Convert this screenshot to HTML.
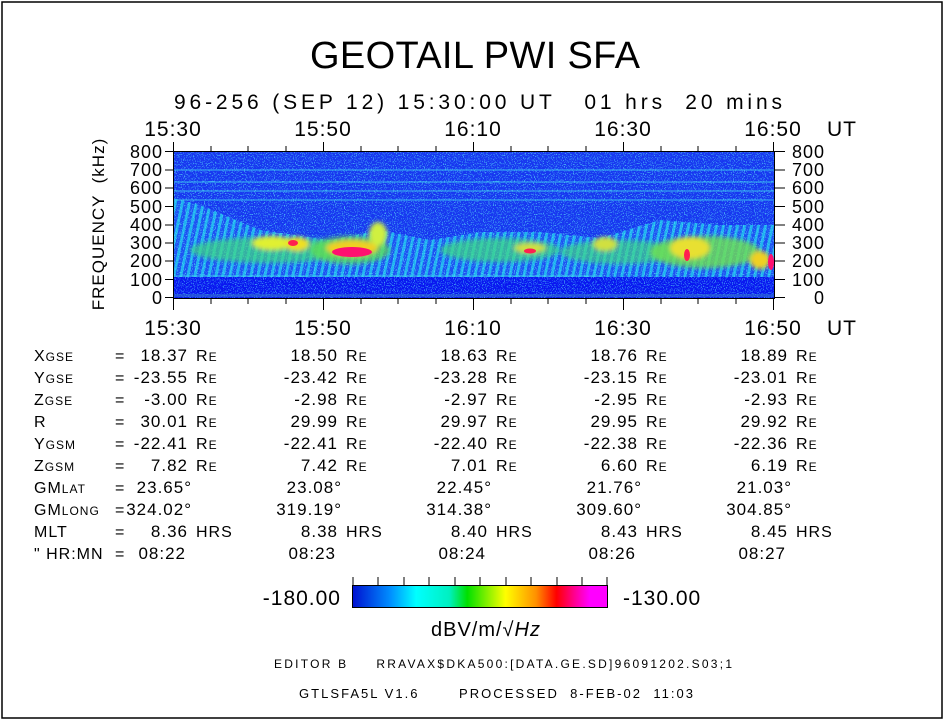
<!DOCTYPE html>
<html><head><meta charset="utf-8"><style>
body{margin:0;background:#fff;}
svg text{font-family:"Liberation Sans",sans-serif;fill:#000;}
</style></head><body>
<svg width="945" height="720" viewBox="0 0 945 720" xmlns="http://www.w3.org/2000/svg">
<defs>
<pattern id="diag" width="7" height="30" patternUnits="userSpaceOnUse" patternTransform="skewX(-12)">
<rect width="7" height="30" fill="#1f55f4"/><rect x="0" width="3" height="30" fill="#20c8f0"/>
</pattern>
<filter id="speck" x="0" y="0" width="1" height="1">
<feTurbulence type="fractalNoise" baseFrequency="0.9" numOctaves="1" seed="3" result="n"/>
<feColorMatrix in="n" type="matrix" values="0 0 0 0 0.1  0 0 0 0 0.75  0 0 0 0 0.95  0 0 0 10 -5.6"/>
</filter>
<filter id="bl"><feGaussianBlur stdDeviation="2.5"/></filter>
<linearGradient id="cb" x1="0" x2="1">
<stop offset="0" stop-color="#0010d0"/><stop offset="0.15" stop-color="#0090ff"/><stop offset="0.25" stop-color="#00ffff"/><stop offset="0.38" stop-color="#00f0c0"/><stop offset="0.45" stop-color="#00e000"/><stop offset="0.6" stop-color="#ffff00"/><stop offset="0.72" stop-color="#ff9000"/><stop offset="0.8" stop-color="#ff0000"/><stop offset="0.87" stop-color="#ff0090"/><stop offset="0.93" stop-color="#ff00ff"/><stop offset="1" stop-color="#ff00ff"/>
</linearGradient>
<clipPath id="pc"><rect x="174" y="152" width="600" height="146"/></clipPath>
</defs>
<rect x="2" y="2" width="940" height="716" fill="none" stroke="#000" stroke-width="1.5"/>
<text x="475" y="68" font-size="38" text-anchor="middle" textLength="330">GEOTAIL PWI SFA</text>
<text x="478" y="109" font-size="21" text-anchor="middle" xml:space="preserve" textLength="608">96-256 (SEP 12) 15:30:00 UT   01 hrs  20 mins</text>
<g clip-path="url(#pc)">
<rect x="173" y="151" width="601" height="147" fill="#1838f0"/>
<polygon points="173,198 200,205 260,230 330,240 380,230 430,240 480,232 540,232 600,238 660,220 720,225 774,225 774,280 173,280" fill="url(#diag)" opacity="0.85"/>
<rect x="173" y="277" width="601" height="21" fill="#0a18f0"/>
<rect x="173" y="151" width="601" height="147" filter="url(#speck)" opacity="0.65"/>
<g stroke="#40d8f0" stroke-width="1" opacity="0.8">
<line x1="173" y1="170" x2="774" y2="170"/><line x1="173" y1="182" x2="774" y2="182"/><line x1="173" y1="191" x2="774" y2="191"/><line x1="173" y1="200" x2="774" y2="200"/><line x1="173" y1="276" x2="600" y2="276"/>
</g>
<g filter="url(#bl)">
<ellipse cx="270" cy="250" rx="80" ry="13" fill="#40d880" opacity="0.7"/>
<ellipse cx="350" cy="250" rx="40" ry="14" fill="#60e050" opacity="0.75"/>
<ellipse cx="500" cy="250" rx="60" ry="12" fill="#40d880" opacity="0.7"/>
<ellipse cx="620" cy="252" rx="60" ry="12" fill="#40d880" opacity="0.65"/>
<ellipse cx="705" cy="252" rx="55" ry="16" fill="#70e050" opacity="0.8"/>
<ellipse cx="272" cy="243" rx="20" ry="7" fill="#e0f030"/>
<ellipse cx="297" cy="244" rx="12" ry="7" fill="#f0e020"/>
<ellipse cx="352" cy="248" rx="26" ry="8" fill="#f0d020"/>
<ellipse cx="378" cy="234" rx="9" ry="12" fill="#d0f040"/>
<ellipse cx="530" cy="248" rx="16" ry="5" fill="#d0e040"/>
<ellipse cx="605" cy="244" rx="12" ry="7" fill="#d0e040"/>
<ellipse cx="690" cy="248" rx="20" ry="11" fill="#e8e030"/>
<ellipse cx="760" cy="260" rx="10" ry="9" fill="#f0d020"/>
</g>
<ellipse cx="352" cy="252" rx="20" ry="5" fill="#ff1070"/>
<ellipse cx="293" cy="243" rx="5" ry="3" fill="#ff2050"/>
<ellipse cx="530" cy="251" rx="6" ry="2.5" fill="#ff2050"/>
<ellipse cx="771" cy="262" rx="3" ry="8" fill="#ff1070"/>
<ellipse cx="687" cy="255" rx="3" ry="6" fill="#ff2050"/>
<rect x="173" y="294" width="601" height="3" fill="#3070d0" opacity="0.6"/>
</g>
<rect x="173.5" y="151.5" width="601" height="147" fill="none" stroke="#000" stroke-width="1"/>
<g stroke="#000" stroke-width="1">
<path d="M173.5 142V151M323.5 142V151M473.5 142V151M623.5 142V151M773.5 142V151"/>
<path d="M211 146V151M248 146V151M286 146V151M361 146V151M398 146V151M436 146V151M511 146V151M548 146V151M586 146V151M661 146V151M698 146V151M736 146V151"/>
<path d="M173.5 298V310M323.5 298V310M473.5 298V310M623.5 298V310M773.5 298V310"/>
<path d="M211 298V304M248 298V304M286 298V304M361 298V304M398 298V304M436 298V304M511 298V304M548 298V304M586 298V304M661 298V304M698 298V304M736 298V304"/>
<path d="M165 151.5H173M165 170H173M165 188H173M165 206.5H173M165 225H173M165 243H173M165 261H173M165 279.5H173M165 297.5H173"/>
<path d="M774 151.5H785M774 170H785M774 188H785M774 206.5H785M774 225H785M774 243H785M774 261H785M774 279.5H785M774 297.5H785"/>
</g>
<g font-size="21" text-anchor="middle" letter-spacing="1">
<text x="173" y="136">15:30</text><text x="323" y="136">15:50</text><text x="473" y="136">16:10</text><text x="623" y="136">16:30</text><text x="773" y="136">16:50</text><text x="842" y="136">UT</text>
<text x="173" y="335">15:30</text><text x="323" y="335">15:50</text><text x="473" y="335">16:10</text><text x="623" y="335">16:30</text><text x="773" y="335">16:50</text><text x="842" y="335">UT</text>
</g>
<g font-size="18" text-anchor="end" letter-spacing="1">
<text x="163" y="158">800</text><text x="163" y="176">700</text><text x="163" y="194">600</text><text x="163" y="213">500</text><text x="163" y="231">400</text><text x="163" y="249">300</text><text x="163" y="267">200</text><text x="163" y="286">100</text><text x="163" y="304">0</text>
<text x="825" y="158">800</text><text x="825" y="176">700</text><text x="825" y="194">600</text><text x="825" y="213">500</text><text x="825" y="231">400</text><text x="825" y="249">300</text><text x="825" y="267">200</text><text x="825" y="286">100</text><text x="825" y="304">0</text>
</g>
<text transform="translate(104,224) rotate(-90)" font-size="17" text-anchor="middle" xml:space="preserve" letter-spacing="1">FREQUENCY  (kHz)</text>
<g font-size="16" xml:space="preserve" letter-spacing="1">
<text x="34" y="361">X<tspan font-size="12">GSE</tspan></text>
<text x="34" y="383">Y<tspan font-size="12">GSE</tspan></text>
<text x="34" y="405">Z<tspan font-size="12">GSE</tspan></text>
<text x="34" y="427">R</text>
<text x="34" y="449">Y<tspan font-size="12">GSM</tspan></text>
<text x="34" y="471">Z<tspan font-size="12">GSM</tspan></text>
<text x="34" y="493">GM<tspan font-size="12">LAT</tspan></text>
<text x="34" y="515">GM<tspan font-size="12">LONG</tspan></text>
<text x="34" y="537">MLT</text>
<text x="34" y="559">"  HR:MN</text>
<text x="115" y="361">=</text><text x="115" y="383">=</text><text x="115" y="405">=</text><text x="115" y="427">=</text><text x="115" y="449">=</text><text x="115" y="471">=</text><text x="115" y="493">=</text><text x="115" y="515">=</text><text x="115" y="537">=</text><text x="115" y="559">=</text>
</g>
<g font-size="17" text-anchor="end" letter-spacing="1">
<text x="188" y="361">18.37</text><text x="338" y="361">18.50</text><text x="488" y="361">18.63</text><text x="638" y="361">18.76</text><text x="788" y="361">18.89</text>
<text x="188" y="383">-23.55</text><text x="338" y="383">-23.42</text><text x="488" y="383">-23.28</text><text x="638" y="383">-23.15</text><text x="788" y="383">-23.01</text>
<text x="188" y="405">-3.00</text><text x="338" y="405">-2.98</text><text x="488" y="405">-2.97</text><text x="638" y="405">-2.95</text><text x="788" y="405">-2.93</text>
<text x="188" y="427">30.01</text><text x="338" y="427">29.99</text><text x="488" y="427">29.97</text><text x="638" y="427">29.95</text><text x="788" y="427">29.92</text>
<text x="188" y="449">-22.41</text><text x="338" y="449">-22.41</text><text x="488" y="449">-22.40</text><text x="638" y="449">-22.38</text><text x="788" y="449">-22.36</text>
<text x="188" y="471">7.82</text><text x="338" y="471">7.42</text><text x="488" y="471">7.01</text><text x="638" y="471">6.60</text><text x="788" y="471">6.19</text>
<text x="192" y="493">23.65°</text><text x="342" y="493">23.08°</text><text x="492" y="493">22.45°</text><text x="642" y="493">21.76°</text><text x="792" y="493">21.03°</text>
<text x="192" y="515">324.02°</text><text x="342" y="515">319.19°</text><text x="492" y="515">314.38°</text><text x="642" y="515">309.60°</text><text x="792" y="515">304.85°</text>
<text x="188" y="537">8.36</text><text x="338" y="537">8.38</text><text x="488" y="537">8.40</text><text x="638" y="537">8.43</text><text x="788" y="537">8.45</text>
<text x="186" y="559">08:22</text><text x="336" y="559">08:23</text><text x="486" y="559">08:24</text><text x="636" y="559">08:26</text><text x="786" y="559">08:27</text>
</g>
<g font-size="16" letter-spacing="1">
<text x="196" y="361">R<tspan font-size="12">E</tspan></text><text x="346" y="361">R<tspan font-size="12">E</tspan></text><text x="496" y="361">R<tspan font-size="12">E</tspan></text><text x="646" y="361">R<tspan font-size="12">E</tspan></text><text x="796" y="361">R<tspan font-size="12">E</tspan></text>
<text x="196" y="383">R<tspan font-size="12">E</tspan></text><text x="346" y="383">R<tspan font-size="12">E</tspan></text><text x="496" y="383">R<tspan font-size="12">E</tspan></text><text x="646" y="383">R<tspan font-size="12">E</tspan></text><text x="796" y="383">R<tspan font-size="12">E</tspan></text>
<text x="196" y="405">R<tspan font-size="12">E</tspan></text><text x="346" y="405">R<tspan font-size="12">E</tspan></text><text x="496" y="405">R<tspan font-size="12">E</tspan></text><text x="646" y="405">R<tspan font-size="12">E</tspan></text><text x="796" y="405">R<tspan font-size="12">E</tspan></text>
<text x="196" y="427">R<tspan font-size="12">E</tspan></text><text x="346" y="427">R<tspan font-size="12">E</tspan></text><text x="496" y="427">R<tspan font-size="12">E</tspan></text><text x="646" y="427">R<tspan font-size="12">E</tspan></text><text x="796" y="427">R<tspan font-size="12">E</tspan></text>
<text x="196" y="449">R<tspan font-size="12">E</tspan></text><text x="346" y="449">R<tspan font-size="12">E</tspan></text><text x="496" y="449">R<tspan font-size="12">E</tspan></text><text x="646" y="449">R<tspan font-size="12">E</tspan></text><text x="796" y="449">R<tspan font-size="12">E</tspan></text>
<text x="196" y="471">R<tspan font-size="12">E</tspan></text><text x="346" y="471">R<tspan font-size="12">E</tspan></text><text x="496" y="471">R<tspan font-size="12">E</tspan></text><text x="646" y="471">R<tspan font-size="12">E</tspan></text><text x="796" y="471">R<tspan font-size="12">E</tspan></text>
<text x="196" y="537">HRS</text><text x="346" y="537">HRS</text><text x="496" y="537">HRS</text><text x="646" y="537">HRS</text><text x="796" y="537">HRS</text>
</g>
<rect x="352.5" y="585.5" width="255" height="22" fill="url(#cb)" stroke="#000" stroke-width="1"/>
<path d="M353 577V585M378 577V585M404 577V585M429 577V585M455 577V585M480 577V585M506 577V585M531 577V585M557 577V585M582 577V585M607 577V585" stroke="#000" stroke-width="1"/>
<text x="341" y="605" font-size="21" text-anchor="end" letter-spacing="1">-180.00</text>
<text x="623" y="605" font-size="21" letter-spacing="1">-130.00</text>
<text x="486" y="636" font-size="20" text-anchor="middle" letter-spacing="1">dBV/m/√<tspan font-style="italic">Hz</tspan></text>
<text x="274" y="668" font-size="12" xml:space="preserve" textLength="458">EDITOR B     RRAVAX$DKA500:[DATA.GE.SD]96091202.S03;1</text>
<text x="299" y="698" font-size="13" xml:space="preserve" textLength="394">GTLSFA5L V1.6       PROCESSED  8-FEB-02  11:03</text>
</svg>
</body></html>
